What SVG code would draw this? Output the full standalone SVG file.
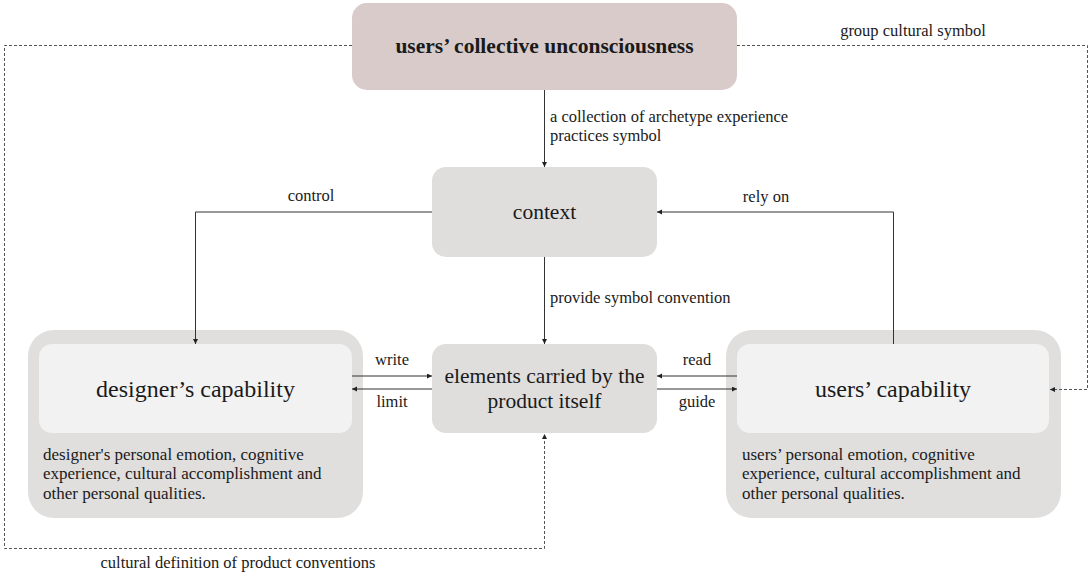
<svg xmlns="http://www.w3.org/2000/svg" width="1089" height="576" viewBox="0 0 1089 576">
  <defs>
    <marker id="tip" markerUnits="userSpaceOnUse" markerWidth="6" markerHeight="6" refX="5" refY="2.5" orient="auto">
      <path d="M0,0 L5,2.5 L0,5 z" fill="#222"/>
    </marker>
  </defs>
  <rect width="1089" height="576" fill="#ffffff"/>

  <g id="collective-unconsciousness">
    <rect x="352" y="3" width="385" height="87" rx="15" fill="#d8cbca"/>
    <text font-family="Liberation Serif" font-size="21.5" font-weight="bold" text-anchor="middle" fill="#1a1a1a" x="544.5" y="53">users’ collective unconsciousness</text>
  </g>

  <g id="context">
    <rect x="432" y="167" width="225" height="90" rx="14" fill="#dfdedd"/>
    <text font-family="Liberation Serif" font-size="21.5" text-anchor="middle" fill="#1a1a1a" x="544.5" y="219">context</text>
  </g>

  <g id="product-elements">
    <rect x="432" y="344" width="225" height="89" rx="14" fill="#dfdedd"/>
    <text font-family="Liberation Serif" font-size="21.5" text-anchor="middle" fill="#1a1a1a" x="544.5" y="383">elements carried by the</text>
    <text font-family="Liberation Serif" font-size="21.5" text-anchor="middle" fill="#1a1a1a" x="544.5" y="408">product itself</text>
  </g>

  <g id="designer-capability">
    <rect x="28" y="330" width="335" height="188" rx="26" fill="#e0dfde"/>
    <rect x="39" y="344" width="313" height="89" rx="13" fill="#f2f2f2"/>
    <text font-family="Liberation Serif" font-size="24" text-anchor="middle" fill="#1a1a1a" x="195.5" y="397">designer’s capability</text>
    <text font-family="Liberation Serif" font-size="17" fill="#1a1a1a" x="43" y="460">designer's personal emotion, cognitive</text>
    <text font-family="Liberation Serif" font-size="17" fill="#1a1a1a" x="43" y="479">experience, cultural accomplishment and</text>
    <text font-family="Liberation Serif" font-size="17" fill="#1a1a1a" x="43" y="499">other personal qualities.</text>
  </g>

  <g id="users-capability">
    <rect x="726" y="330" width="335" height="188" rx="26" fill="#e0dfde"/>
    <rect x="737" y="344" width="312" height="89" rx="13" fill="#f2f2f2"/>
    <text font-family="Liberation Serif" font-size="24" text-anchor="middle" fill="#1a1a1a" x="893" y="397">users’ capability</text>
    <text font-family="Liberation Serif" font-size="17" fill="#1a1a1a" x="742" y="460">users’ personal emotion, cognitive</text>
    <text font-family="Liberation Serif" font-size="17" fill="#1a1a1a" x="742" y="479">experience, cultural accomplishment and</text>
    <text font-family="Liberation Serif" font-size="17" fill="#1a1a1a" x="742" y="499">other personal qualities.</text>
  </g>

  <!-- connectors sit above the nodes so they cross the grey outer bands -->
  <g id="connectors">
    <g fill="none" stroke="#333" stroke-width="1">
      <line x1="544.5" y1="90" x2="544.5" y2="167" marker-end="url(#tip)"/>
      <line x1="544.5" y1="257" x2="544.5" y2="344" marker-end="url(#tip)"/>
      <path d="M432,212 H195.5 V344" marker-end="url(#tip)"/>
      <path d="M893.5,344 V212 H657" marker-end="url(#tip)"/>
      <line x1="352" y1="376" x2="432" y2="376" marker-end="url(#tip)"/>
      <line x1="432" y1="389" x2="352" y2="389" marker-end="url(#tip)"/>
      <line x1="737" y1="376" x2="657" y2="376" marker-end="url(#tip)"/>
      <line x1="657" y1="389" x2="737" y2="389" marker-end="url(#tip)"/>
    </g>
    <g fill="none" stroke="#555" stroke-width="1" stroke-dasharray="3 2">
      <path d="M352,45.5 H4.5 V548.5 H544.5 V434" marker-end="url(#tip)"/>
      <path d="M737,45.5 H1087.5 V389.5 H1050" marker-end="url(#tip)"/>
    </g>

    <text font-family="Liberation Serif" font-size="16.5" fill="#1a1a1a" x="550" y="122">a collection of archetype experience</text>
    <text font-family="Liberation Serif" font-size="16.5" fill="#1a1a1a" x="550" y="141">practices symbol</text>
    <text font-family="Liberation Serif" font-size="16.5" text-anchor="middle" fill="#1a1a1a" x="311" y="201">control</text>
    <text font-family="Liberation Serif" font-size="16.5" text-anchor="middle" fill="#1a1a1a" x="766" y="202">rely on</text>
    <text font-family="Liberation Serif" font-size="16.5" fill="#1a1a1a" x="550" y="303">provide symbol convention</text>
    <text font-family="Liberation Serif" font-size="16.5" text-anchor="middle" fill="#1a1a1a" x="392" y="365">write</text>
    <text font-family="Liberation Serif" font-size="16.5" text-anchor="middle" fill="#1a1a1a" x="392" y="407">limit</text>
    <text font-family="Liberation Serif" font-size="16.5" text-anchor="middle" fill="#1a1a1a" x="697" y="365">read</text>
    <text font-family="Liberation Serif" font-size="16.5" text-anchor="middle" fill="#1a1a1a" x="697" y="407">guide</text>
    <text font-family="Liberation Serif" font-size="16.5" text-anchor="middle" fill="#1a1a1a" x="913" y="36">group cultural symbol</text>
    <text font-family="Liberation Serif" font-size="16.5" text-anchor="middle" fill="#1a1a1a" x="238" y="568">cultural definition of product conventions</text>
  </g>
</svg>
